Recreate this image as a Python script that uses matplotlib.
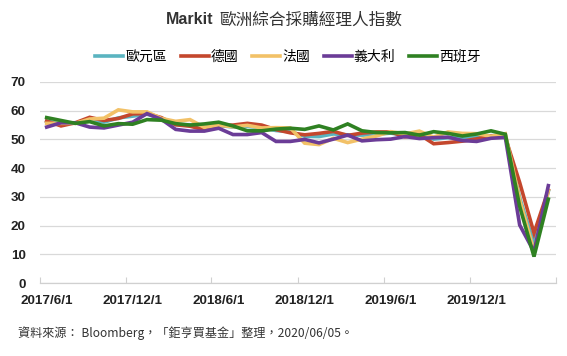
import matplotlib
matplotlib.use("Agg")
import matplotlib.pyplot as plt
from matplotlib.lines import Line2D

months = ["2017/6/1", "2017/7/1", "2017/8/1", "2017/9/1", "2017/10/1", "2017/11/1",
          "2017/12/1", "2018/1/1", "2018/2/1", "2018/3/1", "2018/4/1", "2018/5/1",
          "2018/6/1", "2018/7/1", "2018/8/1", "2018/9/1", "2018/10/1", "2018/11/1",
          "2018/12/1", "2019/1/1", "2019/2/1", "2019/3/1", "2019/4/1", "2019/5/1",
          "2019/6/1", "2019/7/1", "2019/8/1", "2019/9/1", "2019/10/1", "2019/11/1",
          "2019/12/1", "2020/1/1", "2020/2/1", "2020/3/1", "2020/4/1", "2020/5/1"]

eurozone = [56.3, 55.7, 55.7, 56.7, 56.0, 57.5, 58.1, 58.8, 57.1, 55.2, 55.1, 54.1,
            54.9, 54.3, 54.5, 54.1, 53.1, 52.7, 51.1, 51.0, 51.9, 51.6, 51.5, 51.8,
            52.2, 51.5, 51.9, 50.1, 50.6, 50.6, 50.9, 51.3, 51.6, 29.7, 13.6, 31.9]
germany = [56.4, 54.7, 55.8, 57.7, 56.6, 57.3, 58.9, 59.0, 57.6, 55.1, 54.6, 53.4,
           54.8, 55.0, 55.6, 55.0, 53.4, 52.3, 51.6, 52.1, 52.8, 51.4, 52.2, 52.6,
           52.6, 50.9, 51.7, 48.5, 48.9, 49.4, 50.2, 51.2, 50.7, 35.0, 17.4, 32.3]
france = [55.6, 55.6, 55.6, 57.1, 57.4, 60.3, 59.6, 59.6, 57.3, 56.3, 56.9, 54.2,
          55.0, 54.4, 54.9, 54.0, 54.1, 54.0, 48.7, 48.2, 50.4, 48.9, 50.1, 51.2,
          52.7, 51.9, 52.9, 50.8, 52.6, 52.1, 52.0, 51.1, 52.0, 28.9, 11.1, 32.1]
italy = [54.3, 55.8, 55.8, 54.3, 54.0, 55.0, 56.0, 59.0, 57.0, 53.5, 52.9, 52.9,
         53.9, 51.7, 51.7, 52.4, 49.3, 49.3, 50.0, 48.8, 50.1, 51.5, 49.5, 49.9,
         50.1, 51.0, 50.3, 50.6, 50.8, 49.6, 49.3, 50.4, 50.7, 20.2, 10.9, 33.9]
spain = [57.6, 56.6, 55.6, 56.2, 54.7, 55.5, 55.3, 56.9, 56.7, 55.5, 55.0, 55.4,
         56.0, 54.7, 53.0, 53.0, 53.6, 53.9, 53.5, 54.7, 53.3, 55.4, 53.0, 52.4,
         52.3, 52.4, 51.5, 52.7, 52.1, 51.2, 51.9, 53.0, 51.8, 26.7, 9.2, 29.2]

series_names = ["歐元區", "德國", "法國", "義大利", "西班牙"]
series_values = [eurozone, germany, france, italy, spain]
series_colors = ["#5ab4c0", "#c4472d", "#f2c167", "#6b3c97", "#2f8122"]

yticks = [0, 10, 20, 30, 40, 50, 60, 70]
xtick_labels = ["2017/6/1", "2017/12/1", "2018/6/1", "2018/12/1", "2019/6/1", "2019/12/1"]

cjk = ["Noto Sans CJK TC", "DejaVu Sans"]
latin_bold = "Liberation Sans"

fig = plt.figure(figsize=(5.67, 3.56), dpi=100)
fig.patch.set_facecolor("white")
ax = fig.add_axes([39.5 / 567, 1 - 283 / 356, 516 / 567, 201 / 356])

x = list(range(len(months)))
for name, vals, col in zip(series_names, series_values, series_colors):
    ax.plot(x, vals, color=col, lw=2.6, solid_joinstyle="miter", label=name)

ax.set_ylim(0, 70)
ax.set_xlim(-0.5, len(months) - 0.5)
ax.set_yticks(yticks)
ax.set_yticklabels([str(v) for v in yticks], fontfamily=latin_bold,
                   fontweight="bold", fontsize=9.7, color="#222222")
ax.yaxis.grid(True, color="#d9d9d9", lw=0.9)
ax.set_axisbelow(True)
ax.tick_params(axis="y", length=0, pad=10)

# tick marks at category boundaries, labels at category centres
tick_pos = [i * 6 - 0.5 for i in range(len(xtick_labels))] + [len(months) - 0.5]
ax.set_xticks(tick_pos)
ax.set_xticklabels([""] * len(tick_pos))
ax.tick_params(axis="x", which="major", length=4, color="#d0d0d0", direction="in")
ax.set_xticks([i * 6 for i in range(len(xtick_labels))], minor=True)
ax.set_xticklabels(xtick_labels, minor=True, fontfamily=latin_bold, fontweight="bold",
                   fontsize=9.7, color="#222222")
ax.tick_params(axis="x", which="minor", length=0, pad=9)

for s in ["top", "right", "left"]:
    ax.spines[s].set_visible(False)
ax.spines["bottom"].set_color("#d0d0d0")
ax.spines["bottom"].set_linewidth(0.9)

ty = 1 - 20 / 356
fig.text(213 / 567, ty, "Markit", ha="right", va="center",
         fontsize=11.5, fontweight="bold", family="Liberation Sans", color="#333333")
fig.text(219 / 567, ty, "歐洲綜合採購經理人指數", ha="left", va="center",
         fontsize=12, family=cjk, color="#333333")

handles = [Line2D([0], [0], color=c, lw=2.6) for c in series_colors]
fig.legend(handles, series_names, loc="center", bbox_to_anchor=(288 / 567, 1 - 57 / 356),
           ncol=5, frameon=False, prop={"family": cjk, "size": 10},
           handlelength=2.0, handletextpad=0.15, columnspacing=1.0,
           borderpad=0.1)

fig.text(18 / 567, 1 - 333 / 356, "資料來源： Bloomberg，「鉅亨買基金」整理，2020/06/05。",
         ha="left", va="center", fontsize=8.7, family=cjk, color="#333333")

fig.savefig("out.png", dpi=100)
